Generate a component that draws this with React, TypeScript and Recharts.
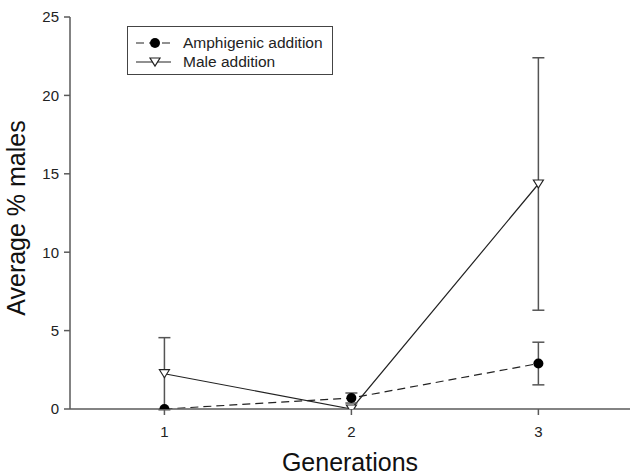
import { LineChart, Line, XAxis, YAxis, ErrorBar, Legend } from 'recharts';

const generations = [1, 2, 3];
const amphigenicMean = [0, 0.7, 2.9];
const amphigenicErr = [0, 0.32, 1.36];
const maleMean = [2.25, 0, 14.35];
const maleErr = [2.3, 0, 8.05];
const yTicks = [0, 5, 10, 15, 20, 25];

const data = generations.map((g, i) => ({
  gen: g,
  amphigenic: amphigenicMean[i],
  amphigenicErr: amphigenicErr[i],
  male: maleMean[i],
  maleErr: maleErr[i],
}));

const FONT = '"Liberation Sans", Arial, sans-serif';
const AXIS = '#5a5a5a';

const TriangleDot = (props: any) => {
  const { cx, cy } = props;
  if (cx == null || cy == null) return null;
  return (
    <path
      d={`M${cx - 5},${cy - 4} L${cx + 5},${cy - 4} L${cx},${cy + 4} Z`}
      fill="#fff"
      stroke="#222"
      strokeWidth={1.2}
    />
  );
};

const CircleDot = (props: any) => {
  const { cx, cy } = props;
  if (cx == null || cy == null) return null;
  return <circle cx={cx} cy={cy} r={5} fill="#000" />;
};

const LegendBox = () => (
  <div
    style={{
      width: 206,
      height: 49,
      border: '1.5px solid #444',
      background: '#fff',
      fontFamily: FONT,
      fontSize: 15.5,
      color: '#222',
      boxSizing: 'border-box',
      position: 'relative',
    }}
  >
    {[
      { label: 'Amphigenic addition', dashed: true, tri: false },
      { label: 'Male addition', dashed: false, tri: true },
    ].map((it, i) => (
      <div key={it.label} style={{ position: 'absolute', left: 6, top: 7 + i * 19, height: 18, display: 'flex', alignItems: 'center' }}>
        <svg width={38} height={14} style={{ display: 'block' }}>
          <line x1={2} y1={7} x2={37} y2={7} stroke="#222" strokeWidth={1.2} strokeDasharray={it.dashed ? '8 5' : undefined} />
          {it.tri ? (
            <path d="M16,3 L26,3 L21,11 Z" fill="#fff" stroke="#222" strokeWidth={1.2} />
          ) : (
            <circle cx={21} cy={7} r={5} fill="#000" />
          )}
        </svg>
        <span style={{ marginLeft: 11, lineHeight: '18px' }}>{it.label}</span>
      </div>
    ))}
  </div>
);

export default function App() {
  return (
    <div style={{ position: 'absolute', left: 0, top: 0, background: '#fff' }}>
      <LineChart width={630} height={475} data={data} margin={{ top: 17, right: 0, bottom: 0, left: 0 }}>
        <XAxis
          dataKey="gen"
          type="number"
          domain={[0.495, 3.49]}
          ticks={generations}
          allowDataOverflow
          height={66}
          stroke={AXIS}
          strokeWidth={1.5}
          tickSize={6}
          tickMargin={11}
          tick={{ fill: '#222', fontSize: 15, fontFamily: FONT }}
          label={{ value: 'Generations', position: 'insideBottom', offset: 4, fill: '#111', fontSize: 25, fontFamily: FONT }}
        />
        <YAxis
          type="number"
          domain={[0, 25]}
          ticks={yTicks}
          allowDataOverflow
          width={70}
          stroke={AXIS}
          strokeWidth={1.5}
          tickSize={6}
          tickMargin={5}
          tick={{ fill: '#222', fontSize: 15, fontFamily: FONT }}
          label={{ value: 'Average % males', angle: -90, position: 'center', dx: -19, dy: 5, fill: '#111', fontSize: 25, fontFamily: FONT }}
        />
        <Legend
          layout="vertical"
          align="center"
          verticalAlign="middle"
          content={() => <LegendBox />}
          wrapperStyle={{ position: 'absolute', left: 127, top: 26, width: 'auto' }}
        />
        <Line
          dataKey="male"
          stroke="#222"
          strokeWidth={1.2}
          dot={<TriangleDot />}
          activeDot={false}
          isAnimationActive={false}
        >
          <ErrorBar dataKey="maleErr" direction="y" width={6} stroke="#555" strokeWidth={1.5} />
        </Line>
        <Line
          dataKey="amphigenic"
          stroke="#222"
          strokeWidth={1.2}
          strokeDasharray="8 5"
          dot={<CircleDot />}
          activeDot={false}
          isAnimationActive={false}
        >
          <ErrorBar dataKey="amphigenicErr" direction="y" width={6} stroke="#555" strokeWidth={1.5} />
        </Line>
      </LineChart>
    </div>
  );
}
